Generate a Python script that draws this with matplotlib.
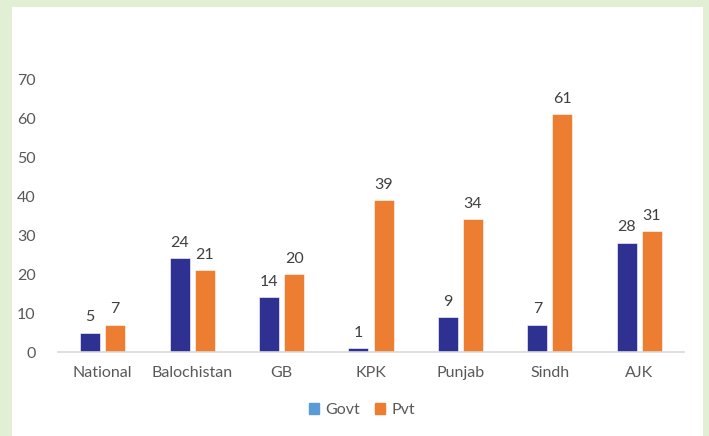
import numpy as np
import matplotlib

matplotlib.use("Agg")
import matplotlib.pyplot as plt  # noqa: E402
from matplotlib.patches import Rectangle, Patch  # noqa: E402

categories = ["National", "Balochistan", "GB", "KPK", "Punjab", "Sindh", "AJK"]
govt = [5, 24, 14, 1, 9, 7, 28]
pvt = [7, 21, 20, 39, 34, 61, 31]

GOVT_C = "#2E3192"
GOVT_LEG = "#5B9BD5"
PVT_C = "#ED7D31"
TXT = "#595959"
FS = 11.5

plt.rcParams["font.family"] = ["Lato", "DejaVu Sans"]

fig = plt.figure(figsize=(7.09, 4.36), dpi=100)
fig.patch.set_facecolor("#E2EFD4")
fig.patches.append(Rectangle((12 / 709, 0), (703 - 12) / 709, 1 - 7 / 436,
                             transform=fig.transFigure, facecolor="white",
                             edgecolor="none", zorder=-10))

ax = fig.add_axes([58 / 709, 1 - 352 / 436, (684 - 58) / 709, (352 - 79) / 436])
ax.set_facecolor("none")
ax.set_zorder(5)

x = np.arange(len(categories))
w, off = 0.224, 0.14
b1 = ax.bar(x - off, govt, w, color=GOVT_C, edgecolor="white", linewidth=0.4)
b2 = ax.bar(x + off, pvt, w, color=PVT_C, edgecolor="white", linewidth=0.4)
for bars in (b1, b2):
    ax.bar_label(bars, padding=6, fontsize=FS, color="#404040")

ax.set_xlim(-0.5, len(categories) - 0.5)
ax.set_ylim(0, 70)
ax.set_yticks(range(0, 71, 10))
ax.set_xticks(x, categories)
ax.tick_params(length=0, labelsize=FS, labelcolor=TXT)
ax.tick_params(axis="x", pad=10)
ax.tick_params(axis="y", pad=16)
for s in ("top", "right", "left"):
    ax.spines[s].set_visible(False)
ax.spines["bottom"].set_color("#D9D9D9")
ax.spines["bottom"].set_linewidth(1.2)

handles = [Patch(color=GOVT_LEG, label="Govt"), Patch(color=PVT_C, label="Pvt")]
leg = fig.legend(handles=handles, loc="center", bbox_to_anchor=(362 / 709, 1 - 410 / 436),
                 ncol=2, frameon=False, fontsize=FS, labelcolor=TXT,
                 handlelength=0.65, handleheight=0.65, handletextpad=0.4, columnspacing=0.9)
leg.set_zorder(5)

fig.savefig("out.png", dpi=100)
